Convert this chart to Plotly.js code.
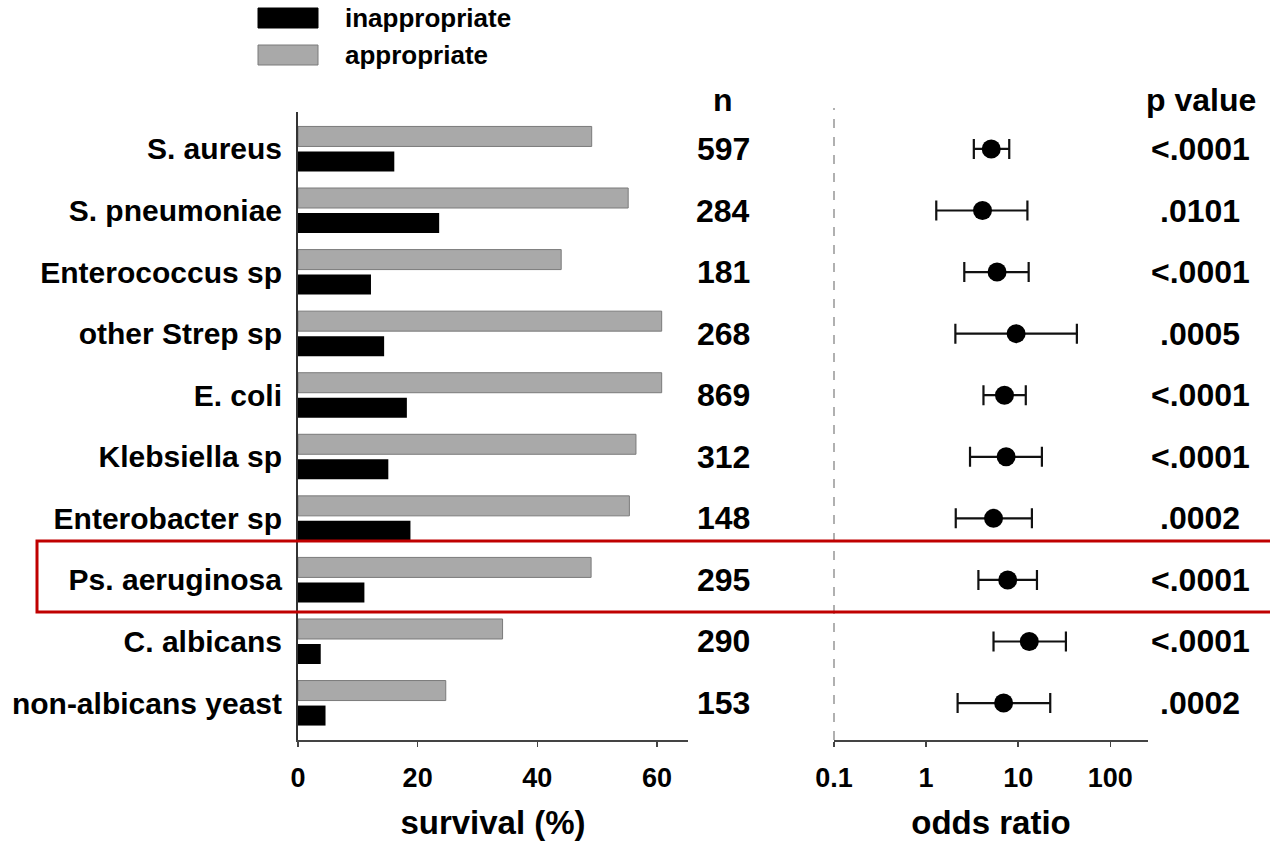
<!DOCTYPE html>
<html>
<head>
<meta charset="utf-8">
<script src="https://cdn.plot.ly/plotly-3.0.1.min.js"></script>
<style>
  html, body { margin: 0; padding: 0; background: #fff; }
  #chart { width: 1270px; height: 843px; }
</style>
</head>
<body>
<div id="chart"></div>
<script>
const categories = ['S. aureus', 'S. pneumoniae', 'Enterococcus sp', 'other Strep sp', 'E. coli',
  'Klebsiella sp', 'Enterobacter sp', 'Ps. aeruginosa', 'C. albicans', 'non-albicans yeast'];
const appropriate = [49.1, 55.2, 44.0, 60.8, 60.8, 56.5, 55.4, 49.0, 34.2, 24.7];
const inappropriate = [16.1, 23.6, 12.2, 14.4, 18.2, 15.1, 18.8, 11.1, 3.8, 4.6];
const nValues = [597, 284, 181, 268, 869, 312, 148, 295, 290, 153];
const oddsRatio = [5.1, 4.1, 5.9, 9.5, 7.1, 7.4, 5.4, 7.7, 13.2, 6.95];
const ciLow = [3.3, 1.29, 2.6, 2.08, 4.2, 3.0, 2.1, 3.7, 5.4, 2.2];
const ciHigh = [8.0, 12.6, 13.0, 43.4, 12.1, 18.1, 14.1, 16.0, 33.0, 22.3];
const pValues = ['<.0001', '.0101', '<.0001', '.0005', '<.0001', '<.0001', '.0002', '<.0001', '<.0001', '.0002'];
const survivalTicks = [0, 20, 40, 60];
const oddsTicks = [0.1, 1, 10, 100];
const oddsTickText = ['0.1', '1', '10', '100'];
const seriesNames = ['inappropriate', 'appropriate'];

const W = 1270, H = 843;
const FONT = '"Liberation Sans", Arial, Helvetica, sans-serif';
const px = x => x / W;
const py = y => 1 - y / H;

const traces = [
  {
    type: 'bar', orientation: 'h', name: seriesNames[1],
    y: categories, x: appropriate,
    marker: { color: '#a9a9a9', line: { color: '#7a7a7a', width: 1 } },
    xaxis: 'x', yaxis: 'y', showlegend: false, hoverinfo: 'x+y'
  },
  {
    type: 'bar', orientation: 'h', name: seriesNames[0],
    y: categories, x: inappropriate,
    marker: { color: '#000000', line: { color: '#000000', width: 0 } },
    xaxis: 'x', yaxis: 'y', showlegend: false, hoverinfo: 'x+y'
  },
  {
    type: 'scatter', mode: 'markers', name: 'odds ratio',
    y: categories, x: oddsRatio,
    marker: { color: '#000', size: 19, symbol: 'circle' },
    error_x: {
      type: 'data', symmetric: false,
      array: oddsRatio.map((v, i) => ciHigh[i] - v),
      arrayminus: oddsRatio.map((v, i) => v - ciLow[i]),
      color: '#111', thickness: 2.2, width: 10
    },
    xaxis: 'x2', yaxis: 'y2', showlegend: false
  }
];

const tickFont = { family: FONT, size: 27, color: '#000', weight: 'bold' };
const titleFont = { family: FONT, size: 33, color: '#000', weight: 'bold' };
const catFont = { family: FONT, size: 30, color: '#000', weight: 'bold' };
const numFont = { family: FONT, size: 32, color: '#000', weight: 'bold' };

const yRange = [9.6, -0.6];
const yDomain = [py(740), py(112)];

const annotations = [];
nValues.forEach((v, i) => {
  annotations.push({ xref: 'paper', yref: 'y', x: px(723), y: i, text: String(v),
    showarrow: false, xanchor: 'center', yanchor: 'middle', font: numFont });
});
pValues.forEach((v, i) => {
  annotations.push({ xref: 'paper', yref: 'y', x: px(1200), y: i, text: v,
    showarrow: false, xanchor: 'center', yanchor: 'middle', font: numFont });
});
annotations.push({ xref: 'paper', yref: 'paper', x: px(723), y: py(100), text: 'n',
  showarrow: false, xanchor: 'center', yanchor: 'middle', font: numFont });
annotations.push({ xref: 'paper', yref: 'paper', x: px(1201), y: py(100), text: 'p value',
  showarrow: false, xanchor: 'center', yanchor: 'middle', font: numFont });
// legend text
annotations.push({ xref: 'paper', yref: 'paper', x: px(343), y: py(18), text: seriesNames[0],
  showarrow: false, xanchor: 'left', yanchor: 'middle', font: { family: FONT, size: 26, color: '#000', weight: 'bold' } });
annotations.push({ xref: 'paper', yref: 'paper', x: px(343), y: py(55), text: seriesNames[1],
  showarrow: false, xanchor: 'left', yanchor: 'middle', font: { family: FONT, size: 26, color: '#000', weight: 'bold' } });

const shapes = [
  // legend swatches
  { type: 'rect', xref: 'paper', yref: 'paper', x0: px(258), x1: px(318), y0: py(8), y1: py(28),
    fillcolor: '#000', line: { color: '#000', width: 1 } },
  { type: 'rect', xref: 'paper', yref: 'paper', x0: px(258), x1: px(318), y0: py(45), y1: py(65),
    fillcolor: '#a9a9a9', line: { color: '#7a7a7a', width: 1 } },
  // dashed reference line at odds ratio axis start
  { type: 'line', xref: 'x2 domain', yref: 'paper', x0: 0, x1: 0, y0: py(740), y1: py(108),
    line: { color: '#b0b0b0', width: 2, dash: 'dash' } },
  // red highlight box
  { type: 'rect', xref: 'paper', yref: 'paper', x0: px(37), x1: 1.02, y0: py(612), y1: py(541),
    fillcolor: 'rgba(0,0,0,0)', line: { color: '#c00000', width: 3 } }
];

const layout = {
  width: W, height: H,
  margin: { l: 0, r: 0, t: 0, b: 0, pad: 0 },
  paper_bgcolor: '#fff', plot_bgcolor: 'rgba(0,0,0,0)',
  font: { family: FONT, color: '#000' },
  barmode: 'group', bargap: 0.188, bargroupgap: 0.2,
  showlegend: false,
  xaxis: {
    domain: [px(298), px(688)], range: [0, 65.2], anchor: 'y',
    tickvals: survivalTicks, ticktext: survivalTicks.map(String),
    ticks: 'outside', ticklen: 5, tickwidth: 1.5, tickcolor: '#444',
    showline: true, linecolor: '#444', linewidth: 2, showgrid: false, zeroline: false,
    tickfont: tickFont, automargin: false, ticklabelstandoff: 8,
    title: { text: 'survival (%)', font: titleFont, standoff: 18 }
  },
  yaxis: {
    domain: yDomain, type: 'category', range: yRange, anchor: 'x',
    showline: true, linecolor: '#333', linewidth: 2, showgrid: false, zeroline: false,
    ticks: '', tickfont: catFont, automargin: false, ticklabelstandoff: 8
  },
  xaxis2: {
    domain: [px(834), px(1148)], type: 'log', range: [-1, 2.41], anchor: 'y2',
    tickvals: oddsTicks, ticktext: oddsTickText,
    ticks: 'outside', ticklen: 5, tickwidth: 1.5, tickcolor: '#444',
    showline: true, linecolor: '#444', linewidth: 2, showgrid: false, zeroline: false,
    tickfont: tickFont, automargin: false, ticklabelstandoff: 8,
    title: { text: 'odds ratio', font: titleFont, standoff: 18 }
  },
  yaxis2: {
    domain: yDomain, type: 'category', range: yRange, anchor: 'x2',
    showline: false, showgrid: false, zeroline: false, showticklabels: false, ticks: ''
  },
  annotations: annotations,
  shapes: shapes
};

Plotly.newPlot('chart', traces, layout, { staticPlot: true, displayModeBar: false });
</script>
</body>
</html>
